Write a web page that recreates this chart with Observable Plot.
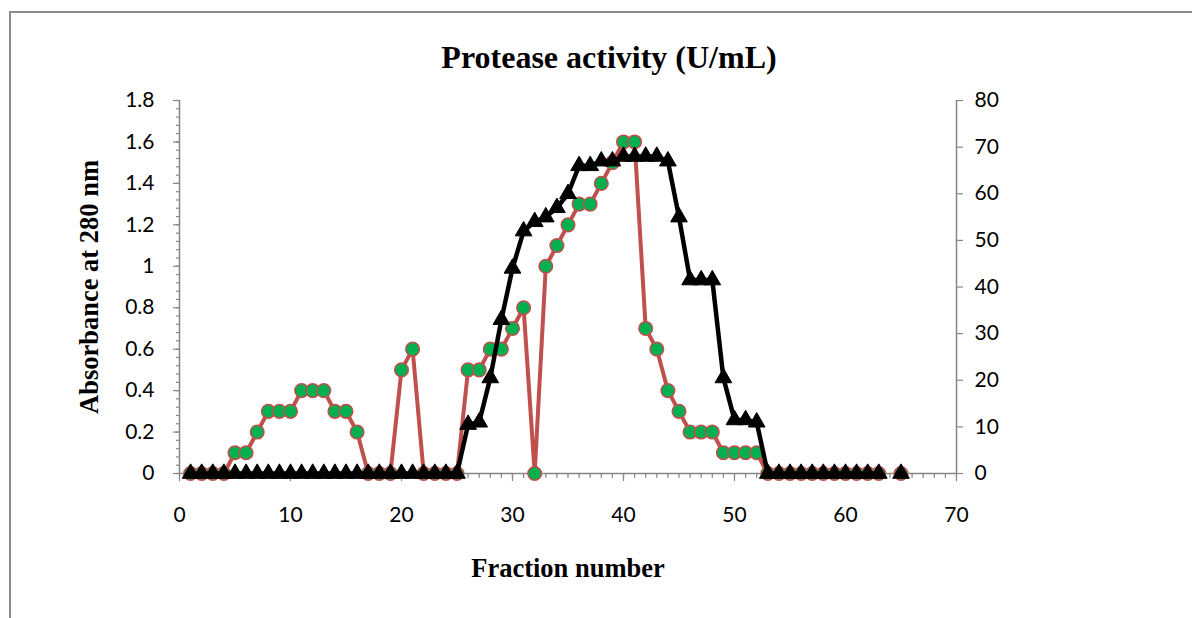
<!DOCTYPE html>
<html><head><meta charset="utf-8">
<script src="https://cdn.jsdelivr.net/npm/d3@7"></script>
<script src="https://cdn.jsdelivr.net/npm/@observablehq/plot@0.6"></script>
<style>
body{margin:0;background:#fff;}
#wrap{position:relative;width:1192px;height:618px;overflow:hidden;background:#fff;}
#border{position:absolute;left:9px;top:11px;width:1300px;height:700px;border-left:2px solid #8c8c8c;border-top:2px solid #8c8c8c;}
#chart{position:absolute;left:0;top:0;}
</style></head><body><div id="wrap"><div id="border"></div><div id="chart"></div></div>
<script>
const fractions = [1,2,3,4,5,6,7,8,9,10,11,12,13,14,15,16,17,18,19,20,21,22,23,24,25,26,27,28,29,30,31,32,33,34,35,36,37,38,39,40,41,42,43,44,45,46,47,48,49,50,51,52,53,54,55,56,57,58,59,60,61,62,63,64,65];
const absorbance = [0,0,0,0,0.1,0.1,0.2,0.3,0.3,0.3,0.4,0.4,0.4,0.3,0.3,0.2,0,0,0,0.5,0.6,0,0,0,0,0.5,0.5,0.6,0.6,0.7,0.8,0,1.0,1.1,1.2,1.3,1.3,1.4,1.5,1.6,1.6,0.7,0.6,0.4,0.3,0.2,0.2,0.2,0.1,0.1,0.1,0.1,0,0,0,0,0,0,0,0,0,0,0,null,0];
const activity = [0,0,0,0,0,0,0,0,0,0,0,0,0,0,0,0,0,0,0,0,0,0,0,0,0,10.5,11,20.5,33,44,52,54,55,57,60,66,66,67,67,68,68,68,68,67,55,41.5,41.5,41.5,20.5,11.5,11.5,11,0,0,0,0,0,0,0,0,0,0,0,null,0];
const leftTicks = [0,0.2,0.4,0.6,0.8,1,1.2,1.4,1.6,1.8];
const rightTicks = [0,10,20,30,40,50,60,70,80];
const xTicks = [0,10,20,30,40,50,60,70];
const titleText = "Protease activity (U/mL)";
const xLabel = "Fraction number";
const yLabel = "Absorbance at 280 nm";

const k = 1.8 / 80; // right axis → left axis
const rows = fractions.map((f, i) => ({f, a: absorbance[i], p: activity[i]}));
const ya = d => d.a == null ? NaN : d.a;
const yp = d => d.p == null ? NaN : d.p * k;

const axisGray = "#868686";
const tickFont = "Lato, 'Open Sans', sans-serif";
const serif = "'Liberation Serif', 'Times New Roman', serif";

const minorY = d3.range(0, 46).map(i => i * 0.04);
const minorX = d3.range(0, 71);

const chart = Plot.plot({
  width: 1192,
  height: 618,
  marginLeft: 179,
  marginRight: 236,
  marginTop: 100,
  marginBottom: 145,
  style: {background: "transparent", overflow: "visible"},
  x: {domain: [0, 70]},
  y: {domain: [0, 1.8]},
  marks: [
    Plot.axisY(minorY, {anchor: "left", tickSize: 3, tickFormat: () => "", stroke: axisGray, strokeWidth: 1.2, label: null}),
    Plot.axisX(minorX, {anchor: "bottom", tickSize: 5, tickFormat: () => "", stroke: axisGray, strokeWidth: 1.2, label: null}),
    Plot.axisY(leftTicks, {anchor: "left", tickSize: 6, tickPadding: 19, stroke: axisGray, strokeWidth: 1.2, fill: "black",
      tickFormat: d => String(+d.toFixed(1)), fontSize: 21, fontFamily: tickFont, label: null}),
    Plot.axisY(rightTicks.map(v => v * k), {anchor: "right", tickSize: 6, tickPadding: 12, stroke: axisGray, strokeWidth: 1.2, fill: "black",
      tickFormat: d => String(Math.round(d / k)), fontSize: 21, fontFamily: tickFont, label: null}),
    Plot.axisX(xTicks, {anchor: "bottom", tickSize: 8, tickPadding: 26, stroke: axisGray, strokeWidth: 1.2, fill: "black",
      fontSize: 21, fontFamily: tickFont, label: null}),
    Plot.ruleX([0], {stroke: axisGray, strokeWidth: 1.5}),
    Plot.ruleX([70], {stroke: axisGray, strokeWidth: 1.5}),
    Plot.ruleY([0], {stroke: axisGray, strokeWidth: 1.5}),
    Plot.line(rows, {x: "f", y: ya, stroke: "#C0504D", strokeWidth: 4, curve: "linear"}),
    Plot.dot(rows, {x: "f", y: ya, r: 6.8, fill: "#00B050", stroke: "#C0504D", strokeWidth: 1.5}),
    Plot.line(rows, {x: "f", y: yp, stroke: "black", strokeWidth: 4.5, curve: "linear"}),
    Plot.dot(rows, {x: "f", y: yp, symbol: "triangle", r: 6.2, fill: "black", stroke: "black", strokeWidth: 1}),
    Plot.text([titleText], {frameAnchor: "top", lineAnchor: "middle", dx: 41, dy: -43, text: d => d, fontSize: 32, fontWeight: "bold", fontFamily: serif, fill: "black"}),
    Plot.text([xLabel], {frameAnchor: "bottom", lineAnchor: "middle", dy: 95, text: d => d, fontSize: 26.5, fontWeight: "bold", fontFamily: serif, fill: "black"}),
    Plot.text([yLabel], {frameAnchor: "left", textAnchor: "middle", lineAnchor: "middle", dx: -90, rotate: -90, text: d => d, fontSize: 26.5, fontWeight: "bold", fontFamily: serif, fill: "black"})
  ]
});
document.getElementById("chart").appendChild(chart);
</script>
</body></html>
